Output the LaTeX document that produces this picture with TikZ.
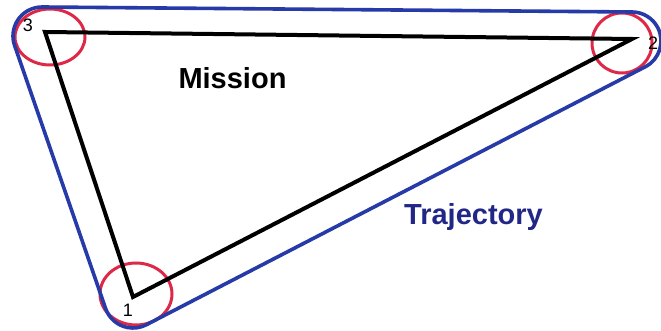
\documentclass[tikz,border=0pt]{standalone}
\usepackage{fontspec}
\setmainfont{Liberation Sans}
\usetikzlibrary{calc}
\definecolor{trajblue}{RGB}{38,58,168}
\definecolor{textblue}{RGB}{34,38,135}
\definecolor{ringred}{RGB}{222,40,72}
\begin{document}
\begin{tikzpicture}[x=1pt,y=1pt,
  ring/.style={draw=ringred, line width=3pt},
  outline/.style={draw=trajblue, line width=3.6pt},
  edge/.style={draw=black, line width=4pt, line join=miter},
  lab/.style={font=\fontsize{18}{21}\selectfont, inner sep=0pt},
  title/.style={font=\fontsize{29}{34}\selectfont\bfseries, inner sep=0pt, anchor=base}]
\useasboundingbox (0,0) rectangle (661,331);
\fill[white] (0,0) rectangle (661,331);
% mission vertices
\coordinate (p1) at (133,34);
\coordinate (p2) at (632,292);
\coordinate (p3) at (45,299);
% trajectory corner centres
\coordinate (q1) at (133,32);
\coordinate (q2) at (632,290);
\coordinate (q3) at (42,295);
% red rings
\draw[ring] (50,294) ellipse (35 and 28);
\draw[ring] (622,288) circle (30);
\draw[ring] (136,37) ellipse (36 and 31);
% blue trajectory outline
\draw[outline] ($(q1)+(-62.66:29)$) -- ($(q2)+(-62.66:29)$)
  arc[start angle=-62.66, end angle=89.51, radius=29]
  -- ($(q3)+(89.51:29)$)
  arc[start angle=89.51, end angle=199.08, radius=29]
  -- ($(q1)+(199.08:29)$)
  arc[start angle=199.08, end angle=297.34, radius=29] -- cycle;
% black mission triangle
\draw[edge] (p1)--(p2)--(p3)--cycle;
% labels
\node[lab] (l3) at (28,306) {3};
\node[lab] (l2) at (653,288) {2};
\node[lab] (l1) at (128,21) {1};
\node[title] (mission) at (232.5,242) {Mission};
\node[title, text=textblue] (traj) at (473.5,106) {Trajectory};
\end{tikzpicture}
\end{document}
